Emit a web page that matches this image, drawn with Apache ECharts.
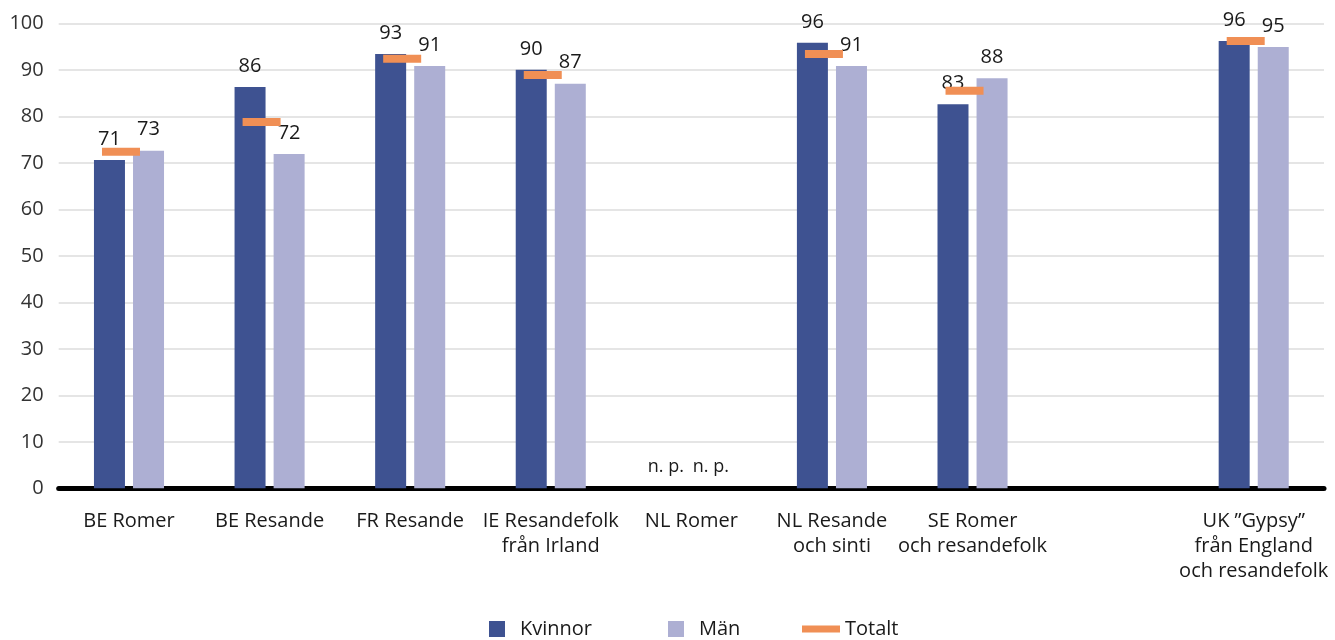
<!DOCTYPE html>
<html>
<head>
<meta charset="utf-8">
<script src="https://cdn.jsdelivr.net/npm/echarts@6/dist/echarts.min.js"></script>
<style>
html,body{margin:0;padding:0;background:#fff;}
#chart{width:1335px;height:640px;}
</style>
</head>
<body>
<div id="chart"></div>
<script>
const categories = ['BE Romer', 'BE Resande', 'FR Resande', 'IE Resandefolk\nfrån Irland', 'NL Romer', 'NL Resande\noch sinti', 'SE Romer\noch resandefolk', '', 'UK ”Gypsy”\nfrån England\noch resandefolk'];
const kvinnor = [70.6, 86.3, 93.4, 90.0, null, 95.8, 82.6, null, 96.2];
const man = [72.6, 71.9, 90.8, 87.0, null, 90.8, 88.2, null, 94.9];
const totalt = [72.4, 78.8, 92.4, 88.9, null, 93.4, 85.5, null, 96.2];
const notPublished = [false, false, false, false, true, false, false, false, false];
const yTicks = [0, 10, 20, 30, 40, 50, 60, 70, 80, 90, 100];

const FONT = '"Open Sans", "Noto Sans", sans-serif';

function barData(vals, dx) {
  return vals.map((v, i) => {
    if (notPublished[i]) return { value: 0, label: { show: true, formatter: 'n. p.', fontSize: 18, distance: 12, offset: [dx, 0] } };
    return v;
  });
}

const labelCfg = {
  show: true, position: 'top', distance: 11,
  fontFamily: FONT, fontSize: 20, color: '#1a1a1a',
  formatter: p => (p.value == null ? '' : String(Math.round(p.value)))
};

const legendText = { fontFamily: FONT, fontSize: 20, color: '#1a1a1a' };

const chart = echarts.init(document.getElementById('chart'), null, { renderer: 'canvas' });
chart.setOption({
  animation: false,
  backgroundColor: '#ffffff',
  grid: { left: 58.7, right: 11, top: 23.3, bottom: 151.7, containLabel: false },
  legend: [
    { data: [{ name: 'Kvinnor', icon: 'rect' }], left: 489, top: 619, padding: 0, itemWidth: 16, itemHeight: 16,
      textStyle: Object.assign({ padding: [0, 0, 0, 10] }, legendText) },
    { data: [{ name: 'Män', icon: 'rect' }], left: 668, top: 619, padding: 0, itemWidth: 16, itemHeight: 16,
      textStyle: Object.assign({ padding: [0, 0, 0, 10] }, legendText) },
    { data: [{ name: 'Totalt', icon: 'rect' }], left: 802, top: 619, padding: 0, itemWidth: 38, itemHeight: 7,
      textStyle: legendText }
  ],
  xAxis: {
    type: 'category',
    data: categories,
    axisLine: { show: true, lineStyle: { color: '#000', width: 5 } },
    axisTick: { show: false },
    axisLabel: { fontFamily: FONT, fontSize: 20, color: '#1a1a1a', margin: 20, lineHeight: 25, interval: 0 }
  },
  yAxis: {
    type: 'value', min: 0, max: 100, interval: 10,
    axisLine: { show: false }, axisTick: { show: false },
    axisLabel: { fontFamily: FONT, fontSize: 20, color: '#333', margin: 15,
      formatter: v => (yTicks.indexOf(v) >= 0 ? String(v) : '') },
    splitLine: { lineStyle: { color: '#dcdcdc', width: 1.5 } }
  },
  series: [
    { name: 'Kvinnor', type: 'bar', data: barData(kvinnor, -6), barWidth: 31, barGap: '26%',
      itemStyle: { color: '#3e5291' }, label: labelCfg, z: 2 },
    { name: 'Män', type: 'bar', data: barData(man, 0), barWidth: 31, barGap: '26%',
      itemStyle: { color: '#adafd3' }, label: labelCfg, z: 2 },
    { name: 'Totalt', type: 'line', data: totalt, symbol: 'rect', symbolSize: [38, 8], symbolOffset: [-8, 0],
      showSymbol: true, lineStyle: { width: 0, opacity: 0 }, itemStyle: { color: '#f08f55' },
      connectNulls: false, z: 5 }
  ]
});
</script>
</body>
</html>
